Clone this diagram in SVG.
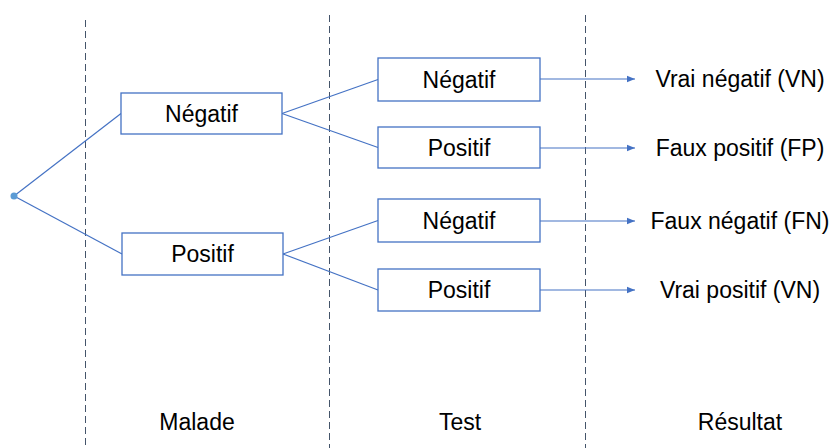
<svg xmlns="http://www.w3.org/2000/svg" width="831" height="448" viewBox="0 0 831 448">
<style>
.sep{stroke:#44546a;stroke-width:1;stroke-dasharray:7 4;fill:none}
.box{fill:#ffffff;stroke:#4472c4;stroke-width:1.3}
.ln{stroke:#4472c4;stroke-width:1.2;fill:none}
.t{font-family:"Liberation Sans",Arial,sans-serif;font-size:23px;fill:#000;text-anchor:middle}
</style>
<defs>
<marker id="ah" viewBox="0 0 10 10" refX="10" refY="5" markerWidth="8" markerHeight="8" markerUnits="userSpaceOnUse" orient="auto">
<path d="M0,1 L10,5 L0,9 z" fill="#4472c4"/>
</marker>
</defs>
<g id="separators">
<line class="sep" x1="85.5" y1="20" x2="85.5" y2="448"/>
<line class="sep" x1="329.5" y1="15" x2="329.5" y2="448"/>
<line class="sep" x1="585.5" y1="15" x2="585.5" y2="448"/>
</g>
<g id="connectors">
<line class="ln" x1="14" y1="196" x2="121" y2="113.5"/>
<line class="ln" x1="14" y1="196" x2="122" y2="254"/>
<line class="ln" x1="282" y1="113.5" x2="378" y2="79.5"/>
<line class="ln" x1="282" y1="113.5" x2="378" y2="147.5"/>
<line class="ln" x1="283" y1="254" x2="378" y2="220.5"/>
<line class="ln" x1="283" y1="254" x2="378" y2="290"/>
<line class="ln" x1="540" y1="79" x2="635" y2="79" marker-end="url(#ah)"/>
<line class="ln" x1="540" y1="148" x2="635" y2="148" marker-end="url(#ah)"/>
<line class="ln" x1="540" y1="221" x2="635" y2="221" marker-end="url(#ah)"/>
<line class="ln" x1="540" y1="290" x2="635" y2="290" marker-end="url(#ah)"/>
</g>
<g id="root"><circle cx="14" cy="196" r="3.5" fill="#5b9bd5"/></g>
<g id="malade-negatif"><rect class="box" x="121" y="93" width="161" height="41"/><text class="t" x="201.5" y="122">Négatif</text></g>
<g id="malade-positif"><rect class="box" x="122" y="233" width="161" height="42"/><text class="t" x="202.5" y="262">Positif</text></g>
<g id="test-nn"><rect class="box" x="378" y="58" width="162" height="43"/><text class="t" x="459" y="88">Négatif</text></g>
<g id="test-np"><rect class="box" x="378" y="127" width="162" height="41"/><text class="t" x="459" y="156">Positif</text></g>
<g id="test-pn"><rect class="box" x="378" y="199" width="162" height="43"/><text class="t" x="459" y="229">Négatif</text></g>
<g id="test-pp"><rect class="box" x="378" y="269" width="162" height="42"/><text class="t" x="459" y="298">Positif</text></g>
<g id="res-vn"><text class="t" x="740" y="87">Vrai négatif (VN)</text></g>
<g id="res-fp"><text class="t" x="740" y="156">Faux positif (FP)</text></g>
<g id="res-fn"><text class="t" x="740" y="229">Faux négatif (FN)</text></g>
<g id="res-vp"><text class="t" x="740" y="298">Vrai positif (VN)</text></g>
<g id="labels">
<text class="t" x="197" y="430">Malade</text>
<text class="t" x="460" y="430">Test</text>
<text class="t" x="740" y="430">Résultat</text>
</g>
</svg>
